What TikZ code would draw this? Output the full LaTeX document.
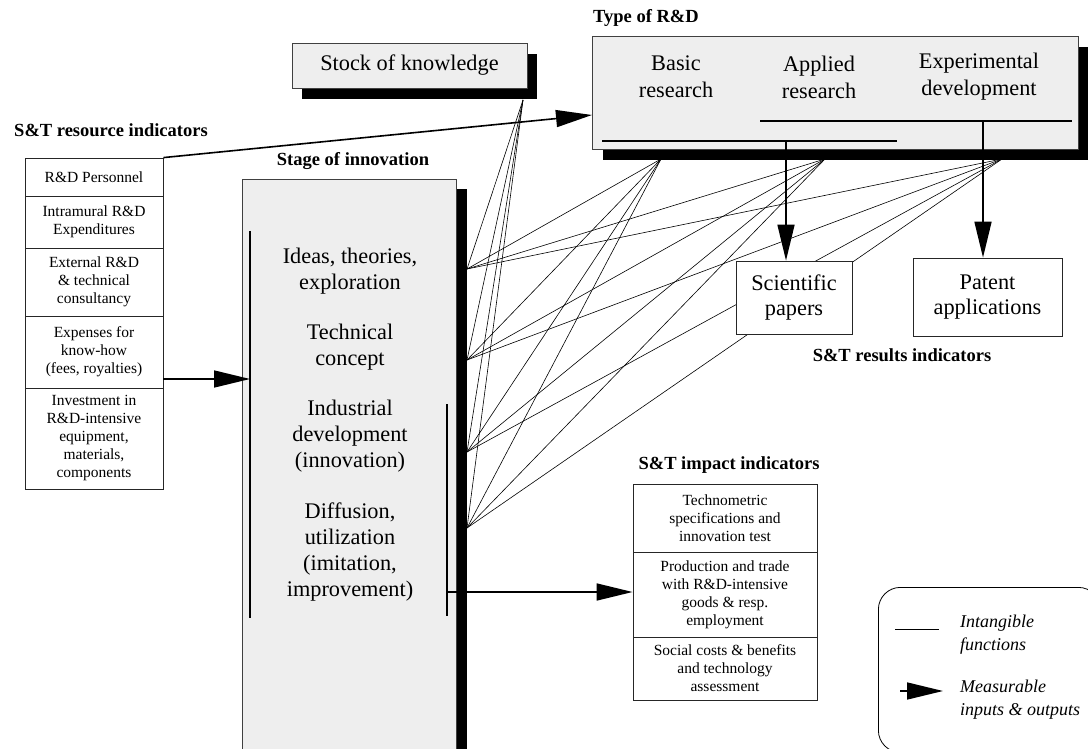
\documentclass[tikz,border=0pt]{standalone}
\usepackage{fontspec}
\setmainfont{Liberation Serif}
\usetikzlibrary{arrows.meta,shadows}
\definecolor{boxgray}{HTML}{EEEEEE}
\begin{document}
\begin{tikzpicture}[x=1pt,y=-1pt,
  big/.style={font=\fontsize{22.3}{25.8}\selectfont, align=center},
  small/.style={font=\fontsize{15.5}{18}\selectfont, align=center},
  hdr/.style={font=\fontsize{18.5}{22}\selectfont\bfseries, inner sep=0pt},
  cell/.style={draw=black!85, line width=0.8pt, fill=white, small, inner sep=0pt},
  gbox/.style={draw=black!75, line width=0.8pt, fill=boxgray, inner sep=0pt},
  wbox/.style={draw=black!85, line width=0.8pt, fill=white, inner sep=0pt, big},
  shd/.style={drop shadow={shadow xshift=#1pt, shadow yshift=-11pt, fill=black, opacity=1}},
  intang/.style={line width=0.6pt},
  meas/.style={line width=1.6pt, -{Triangle[length=36pt,width=17pt]}},
  bar/.style={line width=2pt},
  legtext/.style={font=\fontsize{18}{23}\selectfont\itshape, align=left, inner sep=0pt},
]
\useasboundingbox (0,0) rectangle (1088,749);
\clip (0,0) rectangle (1088,749);

% Stock of knowledge
\node[gbox, shd=10, minimum width=235pt, minimum height=45pt, big] (stock) at (409.5,65.5) {Stock of knowledge};

% Type of R&D
\node[hdr, anchor=west] (typelbl) at (593,18) {Type of R\&D};
\node[gbox, shd=11, minimum width=486pt, minimum height=113pt] (type) at (835,92.5) {};
\node[big, font=\fontsize{22.3}{27}\selectfont] (basic) at (676,77) {Basic\\research};
\node[big, font=\fontsize{22.3}{27}\selectfont] (applied) at (819,77) {Applied\\research};
\node[big, font=\fontsize{22.3}{27}\selectfont] (exper) at (979,77) {Experimental\\development};
\coordinate (lowL) at (602,141);
\coordinate (lowR) at (897,141);
\coordinate (upL) at (760,121);
\coordinate (upR) at (1072,121);
\draw[bar] (lowL) -- (lowR);
\draw[bar] (upL) -- (upR);

% S&T resource indicators
\node[hdr] (reslbl) at (111,130) {S\&T resource indicators};
\node[cell, minimum width=138pt, minimum height=38pt] (c1) at (94,177) {R\&D Personnel};
\node[cell, minimum width=138pt, minimum height=52pt] (c2) at (94,222) {Intramural R\&D\\Expenditures};
\node[cell, minimum width=138pt, minimum height=68pt] (c3) at (94,282) {External R\&D\\\& technical\\consultancy};
\node[cell, minimum width=138pt, minimum height=72pt] (c4) at (94,352) {Expenses for\\know-how\\(fees, royalties)};
\node[cell, minimum width=138pt, minimum height=101pt] (c5) at (94,438.5) {Investment in\\R\&D-intensive\\equipment,\\materials,\\components};

% Stage of innovation
\node[hdr] (stagelbl) at (353,161) {Stage of innovation};
\node[gbox, drop shadow={shadow xshift=11pt, shadow yshift=-10pt, fill=black, opacity=1}, minimum width=214pt, minimum height=600pt, anchor=north west] (stage) at (242,179) {};
\node[big] (g1) at (350,271) {Ideas, theories,\\exploration};
\node[big] (g2) at (350,347) {Technical\\concept};
\node[big] (g3) at (350,436) {Industrial\\development\\(innovation)};
\node[big] (g4) at (350,552) {Diffusion,\\utilization\\(imitation,\\improvement)};
\coordinate (il1) at (250,231);
\coordinate (il2) at (250,618);
\coordinate (ir1) at (447,404);
\coordinate (ir2) at (447,616);
\draw[bar] (il1) -- (il2);
\draw[bar] (ir1) -- (ir2);

% intangible functions
\coordinate (sk) at (523,100);
\coordinate (sb) at (661,159);
\coordinate (sa) at (825,159);
\coordinate (se) at (1002,159);
\coordinate (t1) at (467,269);
\coordinate (t2) at (467,360);
\coordinate (t3) at (467,452);
\coordinate (t4) at (467,528);
\foreach \s in {sk,sb,sa,se}{\foreach \t in {t1,t2,t3,t4}{\draw[intang] (\s) -- (\t);}}

% results
\node[wbox, minimum width=116pt, minimum height=73pt] (sci) at (794,297.5) {Scientific\\papers};
\node[wbox, minimum width=149pt, minimum height=78pt] (pat) at (987.5,297) {Patent\\applications};
\node[hdr] (resultlbl) at (902,355) {S\&T results indicators};
\coordinate (apd) at (786,141);
\coordinate (exd) at (983,121);
\draw[meas] (apd) -- (apd |- sci.north);
\draw[meas] (exd) -- (exd |- pat.north);

% measurable inputs
\coordinate (tin) at (592,115);
\draw[meas] (c1.north east) -- (tin);
\coordinate (ein) at (250,379);
\draw[meas] (ein -| c4.east) -- (ein);

% impact
\node[hdr] (implbl) at (729,465) {S\&T impact indicators};
\node[cell, minimum width=184pt, minimum height=68pt] (i1) at (725,518) {Technometric\\specifications and\\innovation test};
\node[cell, minimum width=184pt, minimum height=85pt] (i2) at (725,594.5) {Production and trade\\with R\&D-intensive\\goods \& resp.\\employment};
\node[cell, minimum width=184pt, minimum height=63pt] (i3) at (725,668.5) {Social costs \& benefits\\and technology\\assessment};
\coordinate (dout) at (447,592);
\draw[meas] (dout) -- (dout -| i2.west);

% legend
\node[draw, line width=0.8pt, rounded corners=22pt, minimum width=222pt, minimum height=165pt, anchor=north west] (legend) at (878,587) {};
\coordinate (lg1) at (895,629);
\coordinate (lg2) at (939,629);
\draw[line width=0.8pt] (lg1) -- (lg2);
\coordinate (lg3) at (900,691);
\coordinate (lg4) at (943,691);
\draw[meas] (lg3) -- (lg4);
\node[legtext, anchor=west] (leg1) at (960,635) {Intangible\\functions};
\node[legtext, anchor=west] (leg2) at (960,700) {Measurable\\inputs \& outputs};
\end{tikzpicture}
\end{document}
